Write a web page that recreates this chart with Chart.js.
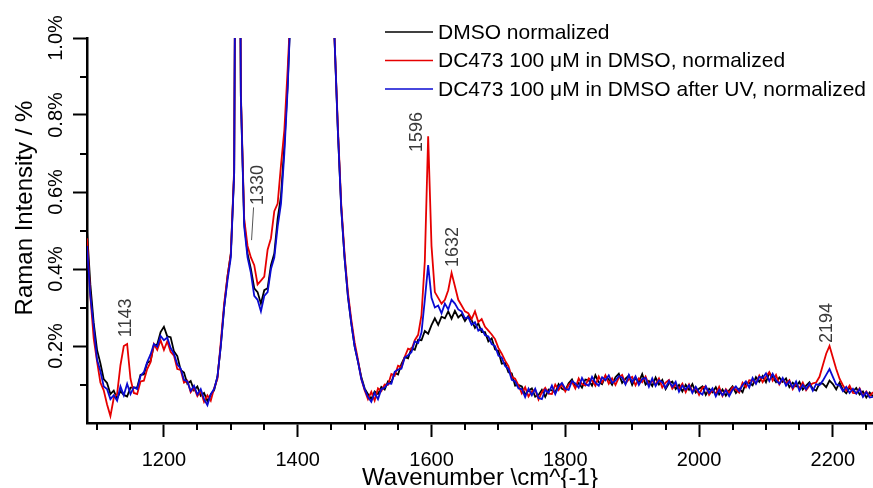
<!DOCTYPE html>
<html>
<head>
<meta charset="utf-8">
<script src="https://cdn.jsdelivr.net/npm/chart.js@4"></script>
<style>
  html, body { margin: 0; padding: 0; background: #fff; }
</style>
</head>
<body>
<canvas id="c" width="873" height="488"></canvas>
<script>
// wavenumbers, cm^-1 (step 5)
const wavenumbers = [
  1085,1090,1095,1100,1105,1110,1115,1120,1125,1130,
  1135,1140,1145,1150,1155,1160,1165,1170,1175,1180,
  1185,1190,1195,1200,1205,1210,1215,1220,1225,1230,
  1235,1240,1245,1250,1255,1260,1265,1270,1275,1280,
  1285,1290,1295,1300,1305,1310,1315,1320,1325,1330,
  1335,1340,1345,1350,1355,1360,1365,1370,1375,1380,
  1385,1390,1395,1400,1405,1410,1415,1420,1425,1430,
  1435,1440,1445,1450,1455,1460,1465,1470,1475,1480,
  1485,1490,1495,1500,1505,1510,1515,1520,1525,1530,
  1535,1540,1545,1550,1555,1560,1565,1570,1575,1580,
  1585,1590,1595,1600,1605,1610,1615,1620,1625,1630,
  1635,1640,1645,1650,1655,1660,1665,1670,1675,1680,
  1685,1690,1695,1700,1705,1710,1715,1720,1725,1730,
  1735,1740,1745,1750,1755,1760,1765,1770,1775,1780,
  1785,1790,1795,1800,1805,1810,1815,1820,1825,1830,
  1835,1840,1845,1850,1855,1860,1865,1870,1875,1880,
  1885,1890,1895,1900,1905,1910,1915,1920,1925,1930,
  1935,1940,1945,1950,1955,1960,1965,1970,1975,1980,
  1985,1990,1995,2000,2005,2010,2015,2020,2025,2030,
  2035,2040,2045,2050,2055,2060,2065,2070,2075,2080,
  2085,2090,2095,2100,2105,2110,2115,2120,2125,2130,
  2135,2140,2145,2150,2155,2160,2165,2170,2175,2180,
  2185,2190,2195,2200,2205,2210,2215,2220,2225,2230,
  2235,2240,2245,2250,2255,2260
];

// DMSO normalized, %
const dmso = [
  0.50,0.36,0.26,0.19,0.155,0.114,0.104,0.075,0.084,0.063,
  0.083,0.073,0.069,0.092,0.092,0.092,0.125,0.126,0.156,0.161,
  0.202,0.204,0.236,0.25,0.225,0.223,0.186,0.174,0.138,0.131,
  0.102,0.109,0.085,0.095,0.071,0.078,0.057,0.074,0.085,0.12,
  0.20,0.30,0.38,0.44,0.65,2.5,0.85,0.52,0.44,0.40,
  0.35,0.34,0.31,0.345,0.35,0.41,0.44,0.53,0.59,0.72,
  0.88,1.1,1.4,1.8,2.2,2.6,2.8,2.9,2.8,2.6,
  2.3,1.9,1.5,1.2,1.0,0.76,0.56,0.43,0.33,0.26,
  0.20,0.16,0.12,0.09,0.075,0.062,0.082,0.075,0.094,0.087,
  0.108,0.106,0.13,0.126,0.153,0.171,0.168,0.194,0.19,0.216,
  0.215,0.239,0.232,0.254,0.272,0.255,0.276,0.272,0.29,0.271,
  0.291,0.274,0.282,0.265,0.278,0.267,0.247,0.259,0.236,0.236,
  0.212,0.22,0.191,0.187,0.154,0.156,0.132,0.129,0.097,0.099,
  0.095,0.074,0.084,0.09,0.068,0.073,0.086,0.068,0.087,0.085,
  0.079,0.101,0.089,0.085,0.103,0.113,0.093,0.104,0.092,0.113,
  0.111,0.097,0.124,0.106,0.101,0.122,0.113,0.099,0.119,0.128,
  0.104,0.115,0.123,0.099,0.117,0.107,0.127,0.10,0.109,0.096,
  0.118,0.10,0.112,0.088,0.103,0.108,0.088,0.099,0.082,0.099,
  0.086,0.101,0.079,0.089,0.095,0.073,0.089,0.08,0.093,0.074,
  0.087,0.071,0.085,0.095,0.078,0.089,0.08,0.105,0.104,0.098,
  0.119,0.107,0.122,0.106,0.13,0.119,0.106,0.118,0.107,0.116,
  0.093,0.105,0.095,0.107,0.087,0.097,0.106,0.088,0.084,0.103,
  0.102,0.093,0.11,0.101,0.087,0.105,0.086,0.077,0.092,0.082,
  0.091,0.074,0.082,0.066,0.079,0.069
];

// DC473 100 uM in DMSO, %
const dc473 = [
  0.48,0.33,0.22,0.16,0.105,0.085,0.048,0.018,0.065,0.075,
  0.15,0.20,0.205,0.115,0.078,0.075,0.108,0.11,0.14,0.158,
  0.205,0.19,0.215,0.19,0.212,0.185,0.175,0.14,0.138,0.105,
  0.11,0.08,0.092,0.07,0.083,0.055,0.072,0.058,0.09,0.115,
  0.21,0.31,0.38,0.44,0.66,2.5,0.86,0.53,0.46,0.43,
  0.41,0.36,0.37,0.38,0.45,0.48,0.55,0.57,0.67,0.76,
  0.92,1.1,1.4,1.8,2.2,2.6,2.8,2.9,2.8,2.6,
  2.3,1.9,1.5,1.2,1.0,0.77,0.57,0.44,0.34,0.27,
  0.21,0.165,0.115,0.085,0.062,0.081,0.058,0.09,0.083,0.10,
  0.099,0.127,0.123,0.149,0.145,0.172,0.193,0.19,0.215,0.229,
  0.28,0.42,0.745,0.46,0.34,0.325,0.31,0.32,0.345,0.39,
  0.355,0.32,0.305,0.29,0.285,0.27,0.29,0.262,0.27,0.25,
  0.24,0.23,0.218,0.195,0.18,0.162,0.148,0.12,0.115,0.098,
  0.077,0.093,0.069,0.082,0.087,0.061,0.08,0.091,0.076,0.075,
  0.10,0.086,0.101,0.082,0.099,0.107,0.09,0.116,0.101,0.097,
  0.116,0.11,0.097,0.121,0.105,0.124,0.102,0.116,0.099,0.118,
  0.125,0.102,0.114,0.12,0.098,0.116,0.106,0.121,0.10,0.11,
  0.10,0.116,0.092,0.105,0.112,0.089,0.10,0.089,0.102,0.08,
  0.10,0.082,0.092,0.073,0.092,0.095,0.073,0.086,0.076,0.094,
  0.07,0.088,0.078,0.093,0.087,0.079,0.105,0.093,0.111,0.11,
  0.103,0.123,0.106,0.12,0.132,0.11,0.125,0.10,0.114,0.102,
  0.111,0.088,0.103,0.09,0.105,0.085,0.097,0.103,0.105,0.12,
  0.15,0.18,0.20,0.17,0.14,0.115,0.098,0.084,0.097,0.078,
  0.077,0.09,0.07,0.082,0.07,0.08
];

// DC473 100 uM in DMSO after UV, %
const dc473uv = [
  0.46,0.33,0.25,0.165,0.135,0.095,0.088,0.062,0.072,0.058,
  0.095,0.072,0.102,0.075,0.093,0.088,0.122,0.132,0.158,0.178,
  0.205,0.198,0.226,0.215,0.222,0.195,0.18,0.152,0.142,0.112,
  0.108,0.083,0.097,0.074,0.088,0.062,0.046,0.075,0.088,0.12,
  0.20,0.30,0.37,0.43,0.65,2.5,0.85,0.51,0.43,0.39,
  0.33,0.32,0.29,0.33,0.34,0.40,0.43,0.51,0.57,0.70,
  0.87,1.1,1.4,1.8,2.2,2.6,2.8,2.9,2.8,2.6,
  2.3,1.9,1.5,1.2,1.0,0.76,0.56,0.43,0.33,0.26,
  0.20,0.16,0.115,0.088,0.068,0.055,0.078,0.062,0.088,0.092,
  0.103,0.102,0.133,0.139,0.141,0.17,0.176,0.184,0.212,0.208,
  0.235,0.32,0.41,0.325,0.30,0.305,0.285,0.31,0.295,0.32,
  0.31,0.295,0.29,0.272,0.275,0.255,0.262,0.24,0.245,0.228,
  0.225,0.205,0.20,0.175,0.17,0.148,0.14,0.112,0.108,0.09,
  0.088,0.067,0.089,0.072,0.089,0.065,0.062,0.086,0.078,0.097,
  0.075,0.095,0.104,0.089,0.086,0.109,0.103,0.092,0.117,0.101,
  0.097,0.12,0.105,0.097,0.119,0.111,0.124,0.104,0.11,0.122,
  0.118,0.10,0.125,0.106,0.121,0.099,0.114,0.117,0.094,0.116,
  0.096,0.111,0.106,0.091,0.109,0.094,0.107,0.081,0.097,0.087,
  0.098,0.078,0.094,0.08,0.074,0.095,0.078,0.09,0.069,0.086,
  0.072,0.085,0.07,0.086,0.095,0.083,0.098,0.108,0.092,0.117,
  0.102,0.12,0.117,0.129,0.109,0.128,0.111,0.102,0.117,0.097,
  0.108,0.092,0.108,0.084,0.099,0.088,0.102,0.084,0.101,0.098,
  0.11,0.125,0.14,0.12,0.10,0.098,0.083,0.094,0.078,0.089,
  0.076,0.088,0.068,0.08,0.066,0.068
];

const xMajorTicks = [1200, 1400, 1600, 1800, 2000, 2200];
const xMinorTicks = [1100, 1150, 1250, 1300, 1350, 1450, 1500, 1550, 1650, 1700, 1750,
  1850, 1900, 1950, 2050, 2100, 2150, 2250];
const yMajorTicks = [0.2, 0.4, 0.6, 0.8, 1.0];
const yMinorTicks = [0.1, 0.3, 0.5, 0.7, 0.9];

const peakLabels = ["1143", "1330", "1596", "1632", "2194"];
const peakLabelX = [1143, 1340, 1579, 1632, 2191];
const peakLabelY = [0.223, 0.566, 0.704, 0.405, 0.208];

const FONT = "'Liberation Sans', Arial, sans-serif";
Chart.defaults.font.family = FONT;

const pts = (ys) => wavenumbers.map((w, i) => ({ x: w, y: ys[i] }));

const series = [
  { label: "DMSO normalized", data: dmso, color: "#000000", order: 3 },
  { label: "DC473 100 \u03bcM in DMSO, normalized", data: dc473, color: "#e60000", order: 2 },
  { label: "DC473 100 \u03bcM in DMSO after UV, normalized", data: dc473uv, color: "#0a0ad2", order: 1 },
];

// minor ticks, texts, legend and peak labels
const decorPlugin = {
  id: "decor",
  afterDraw(chart) {
    const { ctx, chartArea: a } = chart;
    const xs = chart.scales.x, ys = chart.scales.y;
    ctx.save();
    ctx.strokeStyle = "#000";
    ctx.lineWidth = 2;
    ctx.beginPath();
    xMinorTicks.forEach((v) => {
      const px = Math.round(xs.getPixelForValue(v));
      ctx.moveTo(px, a.bottom);
      ctx.lineTo(px, a.bottom + 7);
    });
    yMinorTicks.forEach((v) => {
      const py = Math.round(ys.getPixelForValue(v));
      ctx.moveTo(a.left, py);
      ctx.lineTo(a.left - 7, py);
    });
    ctx.stroke();

    ctx.fillStyle = "#000";
    // y tick labels (rotated)
    ctx.font = `20px ${FONT}`;
    ctx.textAlign = "center";
    ctx.textBaseline = "alphabetic";
    yMajorTicks.forEach((v) => {
      ctx.save();
      ctx.translate(62, ys.getPixelForValue(v));
      ctx.rotate(-Math.PI / 2);
      ctx.fillText(v.toFixed(1) + "%", 0, 0);
      ctx.restore();
    });

    // axis titles
    ctx.font = `24px ${FONT}`;
    ctx.fillText("Wavenumber \\cm^{-1}", (a.left + a.right) / 2, 485);
    ctx.save();
    ctx.translate(32, 208);
    ctx.rotate(-Math.PI / 2);
    ctx.fillText("Raman Intensity / %", 0, 0);
    ctx.restore();

    // legend
    ctx.font = `21px ${FONT}`;
    ctx.textAlign = "left";
    ctx.textBaseline = "middle";
    chart.data.datasets.forEach((ds, i) => {
      const y = 32 + i * 28.5;
      ctx.strokeStyle = ds.borderColor;
      ctx.lineWidth = 1.5;
      ctx.beginPath();
      ctx.moveTo(385, y);
      ctx.lineTo(433, y);
      ctx.stroke();
      ctx.fillStyle = "#000";
      ctx.fillText(ds.label, 438, y + 1);
    });

    // peak labels
    ctx.font = `18px ${FONT}`;
    ctx.fillStyle = "#3a3a3a";
    ctx.textAlign = "left";
    ctx.textBaseline = "middle";
    peakLabels.forEach((t, i) => {
      ctx.save();
      ctx.translate(xs.getPixelForValue(peakLabelX[i]), ys.getPixelForValue(peakLabelY[i]));
      ctx.rotate(-Math.PI / 2);
      ctx.fillText(t, 0, 0);
      ctx.restore();
    });
    // leader line for 1330
    ctx.strokeStyle = "#555";
    ctx.lineWidth = 1;
    ctx.beginPath();
    ctx.moveTo(xs.getPixelForValue(1334), ys.getPixelForValue(0.56));
    ctx.lineTo(xs.getPixelForValue(1331), ys.getPixelForValue(0.475));
    ctx.stroke();
    ctx.restore();
  },
};

new Chart(document.getElementById("c"), {
  type: "line",
  data: {
    datasets: series.map((s) => ({
      label: s.label,
      data: pts(s.data),
      borderColor: s.color,
      borderWidth: 1.8,
      pointRadius: 0,
      tension: 0,
      order: s.order,
    })),
  },
  options: {
    responsive: false,
    animation: false,
    devicePixelRatio: 1,
    layout: { padding: { top: 38, right: 0, left: 0, bottom: 0 } },
    plugins: { legend: { display: false }, tooltip: { enabled: false } },
    scales: {
      x: {
        type: "linear",
        min: 1085,
        max: 2260,
        afterBuildTicks: (s) => { s.ticks = xMajorTicks.map((v) => ({ value: v })); },
        afterFit: (s) => { s.height = 65; },
        grid: { drawOnChartArea: false, tickLength: 14, tickWidth: 2, tickColor: "#000" },
        border: { color: "#000", width: 2.5 },
        ticks: { color: "#000", font: { size: 20 }, padding: 11, maxRotation: 0, autoSkip: false,
                 callback: (v) => String(v) },
      },
      y: {
        min: 0,
        max: 1,
        afterBuildTicks: (s) => { s.ticks = yMajorTicks.map((v) => ({ value: v })); },
        afterFit: (s) => { s.width = 87; },
        grid: { drawOnChartArea: false, tickLength: 14, tickWidth: 2, tickColor: "#000" },
        border: { color: "#000", width: 2.5 },
        ticks: { display: false },
      },
    },
  },
  plugins: [decorPlugin],
});
</script>
</body>
</html>
